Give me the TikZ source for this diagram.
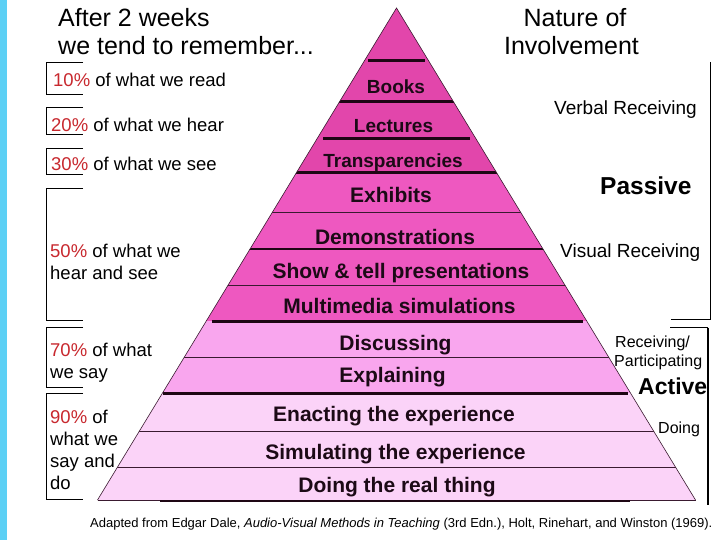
\documentclass[tikz,border=0pt]{standalone}
\usepackage{fontspec}
\setmainfont{Liberation Sans}
\definecolor{stripblue}{HTML}{5CD0F5}
\definecolor{cone}{HTML}{E246AB}
\definecolor{ctwo}{HTML}{EE58C0}
\definecolor{cthree}{HTML}{F9A6EE}
\definecolor{cfour}{HTML}{FBD3F8}
\definecolor{linedark}{HTML}{1E0614}
\definecolor{linegray}{HTML}{3A1A30}
\definecolor{labelc}{HTML}{1C0A16}
\definecolor{pctred}{HTML}{C8282E}
\newcommand{\pcred}[1]{\textcolor{pctred}{#1}}
\tikzset{
  thickline/.style={line width=3pt, draw=linedark},
  midline/.style={line width=1.8pt, draw=linedark},
  thinline/.style={line width=0.8pt, draw=linegray},
  brk/.style={line width=0.8pt, draw=black},
  pyrs/.style={font=\bfseries\fontsize{19}{19}\selectfont, text=labelc, inner sep=0pt, anchor=base},
  pyrl/.style={font=\bfseries\fontsize{21}{21}\selectfont, text=labelc, inner sep=0pt, anchor=base},
  head/.style={font=\fontsize{25}{25}\selectfont, inner sep=0pt, anchor=base},
  lt/.style={font=\fontsize{18.5}{18.5}\selectfont, inner sep=0pt, anchor=base west},
  rt/.style={font=\fontsize{19}{19}\selectfont, inner sep=0pt, anchor=base west},
  rs/.style={font=\fontsize{16}{16}\selectfont, inner sep=0pt, anchor=base west},
  rb/.style={font=\bfseries\fontsize{24}{24}\selectfont, inner sep=0pt, anchor=base west},
}
\begin{document}
\begin{tikzpicture}[x=1pt,y=-1pt]
\useasboundingbox (0,0) rectangle (720,540);
\fill[white] (0,0) rectangle (720,540);
\fill[stripblue] (0,0) rectangle (7,540);

% pyramid
\coordinate (apex) at (396.5,8);
\coordinate (bl) at (97.5,500);
\coordinate (br) at (695.5,500);
\begin{scope}
\clip (apex) -- (bl) -- (br) -- cycle;
\fill[cone] (0,0) rectangle (720,173);
\fill[ctwo] (0,173) rectangle (720,321);
\fill[cthree] (0,321) rectangle (720,393);
\fill[cfour] (0,393) rectangle (720,500);
\draw[thickline] (0,102) -- (720,102);
\draw[thickline] (0,173) -- (720,173);
\draw[thinline] (0,212) -- (720,212);
\draw[midline] (0,249) -- (720,249);
\draw[thinline] (0,285) -- (720,285);
\draw[thinline] (0,357) -- (720,357);
\draw[thinline] (0,431) -- (720,431);
\draw[thinline] (0,467) -- (720,467);
\end{scope}
\draw[thickline] (368,61) -- (425,61);
\draw[thickline] (323,139) -- (470,139);
\draw[thickline] (212,321) -- (583,321);
\draw[thickline] (163,393) -- (628,393);
\draw[thinline, line width=0.6pt] (bl) -- (apex) -- (br);
\draw[thinline] (bl) -- (br);
\draw[thickline, line width=2.5pt] (160,501) -- (630,501);

% pyramid labels
\node[pyrs] (books) at (396,94) {Books};
\node[pyrs] (lect) at (393.5,133) {Lectures};
\node[pyrs] (transp) at (393,168) {Transparencies};
\node[pyrl] (exh) at (391,203) {Exhibits};
\node[pyrl] (demo) at (395,244) {Demonstrations};
\node[pyrl] (show) at (401,278) {Show \& tell presentations};
\node[pyrl] (multi) at (399.5,313) {Multimedia simulations};
\node[pyrl] (disc) at (395.5,350) {Discussing};
\node[pyrl] (expl) at (392.5,382) {Explaining};
\node[pyrl] (enact) at (394,421) {Enacting the experience};
\node[pyrl] (simu) at (395.5,459) {Simulating the experience};
\node[pyrl] (doing) at (397,492) {Doing the real thing};

% headings
\node[head, anchor=base west] (after) at (58,27) {After 2 weeks};
\node[head, anchor=base west] (tend) at (58,55) {we tend to remember...};
\node[head] (nature) at (575,27) {Nature of};
\node[head] (invol) at (571.5,55) {Involvement};

% left brackets
\draw[brk] (83,62) -- (46,62) -- (46,94) -- (83,94);
\draw[brk] (83,107) -- (46,107) -- (46,134) -- (83,134);
\draw[brk] (83,148) -- (46,148) -- (46,174) -- (83,174);
\draw[brk] (83,188) -- (46,188) -- (46,320) -- (83,320);
\draw[brk] (83,327) -- (46,327) -- (46,387) -- (83,387);
\draw[brk] (83,393) -- (46,393) -- (46,499) -- (83,499);

% left texts
\node[lt] (t10) at (53,87) {\pcred{10\%} of what we read};
\node[lt] (t20) at (51,132) {\pcred{20\%} of what we hear};
\node[lt] (t30) at (51,171) {\pcred{30\%} of what we see};
\node[lt] (t50a) at (50,257) {\pcred{50\%} of what we};
\node[lt] (t50b) at (50,279) {hear and see};
\node[lt] (t70a) at (50,356) {\pcred{70\%} of what};
\node[lt] (t70b) at (50,378) {we say};
\node[lt] (t90a) at (50,423) {\pcred{90\%} of};
\node[lt] (t90b) at (50,445) {what we};
\node[lt] (t90c) at (50,467) {say and};
\node[lt] (t90d) at (50,489) {do};

% right brackets
\draw[brk] (710,62) -- (710,319) -- (671,319);
\draw[brk] (670,327.5) -- (708,327.5);
\draw[brk, line width=1.8pt] (708,327.5) -- (708,505);

% right texts
\node[rt] (verbal) at (554,115) {Verbal Receiving};
\node[rb, font=\bfseries\fontsize{24.5}{24.5}\selectfont] (passive) at (600,195) {Passive};
\node[rt] (visual) at (560,257) {Visual Receiving};
\node[rs] (recv) at (615,347) {Receiving/};
\node[rs] (part) at (614,366) {Participating};
\node[rb, font=\bfseries\fontsize{23}{23}\selectfont] (active) at (638,394) {Active};
\node[rs] (doingr) at (658,433) {Doing};

% caption
\node[inner sep=0pt, anchor=base west, font=\fontsize{13}{13}\selectfont] (cap) at (90,527)
  {Adapted from Edgar Dale, \textit{Audio-Visual Methods in Teaching} (3rd Edn.), Holt, Rinehart, and Winston (1969).};
\end{tikzpicture}
\end{document}
